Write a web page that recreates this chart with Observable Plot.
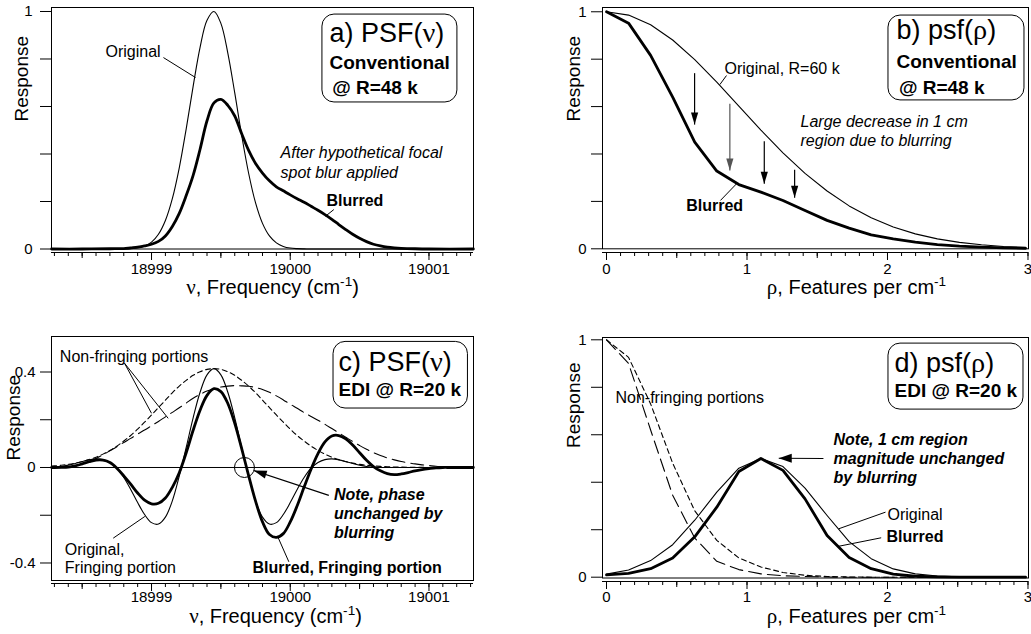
<!DOCTYPE html>
<html><head><meta charset="utf-8">
<script src="https://cdn.jsdelivr.net/npm/d3@7"></script>
<script src="https://cdn.jsdelivr.net/npm/@observablehq/plot@0.6"></script>
<style>
body{margin:0;background:#fff;}
#chart{position:relative;width:1031px;height:634px;overflow:hidden;background:#fff;}
#chart svg{position:absolute;}
</style></head><body><div id="chart"></div>
<script>
// ---------- Panel a: PSF(nu), conventional ----------
const nuA = [18998.28, 18998.5, 18998.7, 18998.75, 18998.8, 18998.85, 18998.9, 18998.95, 18999.0, 18999.05, 18999.1, 18999.15, 18999.2, 18999.25, 18999.3, 18999.35, 18999.4, 18999.45, 18999.5, 18999.55, 18999.6, 18999.65, 18999.7, 18999.75, 18999.8, 18999.85, 18999.9, 18999.95, 19000.0, 19000.05, 19000.1, 19000.15, 19000.2, 19000.25, 19000.3, 19000.35, 19000.4, 19000.45, 19000.5, 19000.55, 19000.6, 19000.65, 19000.7, 19000.75, 19000.8, 19000.9, 19001.0, 19001.32];
const origA = [0, 0, 0, 0.0002, 0.0006, 0.0018, 0.005, 0.0128, 0.029, 0.062, 0.12, 0.212, 0.342, 0.506, 0.685, 0.849, 0.963, 1.0, 0.95, 0.825, 0.657, 0.478, 0.319, 0.194, 0.108, 0.055, 0.026, 0.011, 0.004, 0.0015, 0.0005, 0, 0, 0, 0, 0, 0, 0, 0, 0, 0, 0, 0, 0, 0, 0, 0, 0];
const blurA = [0, 0, 0.001, 0.0015, 0.002, 0.005, 0.008, 0.013, 0.02, 0.032, 0.055, 0.095, 0.15, 0.225, 0.31, 0.42, 0.54, 0.615, 0.63, 0.605, 0.56, 0.485, 0.415, 0.36, 0.32, 0.287, 0.262, 0.245, 0.228, 0.212, 0.197, 0.18, 0.163, 0.145, 0.125, 0.103, 0.082, 0.062, 0.045, 0.031, 0.02, 0.013, 0.008, 0.005, 0.003, 0.001, 0, 0];

// ---------- Panel b: psf(rho), conventional ----------
const rhoB = [0, 0.157, 0.314, 0.471, 0.628, 0.785, 0.942, 1.099, 1.256, 1.413, 1.57, 1.727, 1.884, 2.041, 2.198, 2.355, 2.512, 2.669, 2.826, 2.983];
const origB = [1, 0.986, 0.945, 0.881, 0.798, 0.703, 0.602, 0.501, 0.405, 0.318, 0.244, 0.181, 0.131, 0.092, 0.063, 0.042, 0.027, 0.017, 0.01, 0.006];
const blurB = [1, 0.952, 0.816, 0.64, 0.45, 0.328, 0.271, 0.239, 0.204, 0.162, 0.12, 0.087, 0.059, 0.042, 0.028, 0.018, 0.011, 0.007, 0.004, 0.002];

// ---------- Panel c: PSF(nu), EDI ----------
const nuC = [18998.28, 18998.30, 18998.35, 18998.40, 18998.45, 18998.50, 18998.55, 18998.60, 18998.65, 18998.70, 18998.75, 18998.80, 18998.85, 18998.90, 18998.95, 18999.00, 18999.05, 18999.10, 18999.15, 18999.20, 18999.25, 18999.30, 18999.35, 18999.40, 18999.45, 18999.50, 18999.55, 18999.60, 18999.65, 18999.70, 18999.75, 18999.80, 18999.85, 18999.90, 18999.95, 19000.00, 19000.05, 19000.10, 19000.15, 19000.20, 19000.25, 19000.30, 19000.35, 19000.40, 19000.45, 19000.50, 19000.55, 19000.60, 19000.65, 19000.70, 19000.75, 19000.80, 19000.85, 19000.90, 19000.95, 19001.00, 19001.05, 19001.10, 19001.15, 19001.20, 19001.32];
const origC = [0, 0.001, 0.0045, 0.01, 0.017, 0.025, 0.032, 0.036, 0.033, 0.021, -0.003, -0.042, -0.092, -0.147, -0.197, -0.231, -0.237, -0.208, -0.14, -0.036, 0.084, 0.208, 0.315, 0.388, 0.414, 0.388, 0.315, 0.208, 0.084, -0.036, -0.14, -0.208, -0.237, -0.231, -0.197, -0.147, -0.092, -0.042, -0.003, 0.021, 0.033, 0.036, 0.032, 0.025, 0.017, 0.01, 0.0045, 0.001, 0, 0, 0, 0, 0, 0, 0, 0, 0, 0, 0, 0, 0];
const blurC = [0, 0, 0.0005, 0.002, 0.007, 0.015, 0.024, 0.031, 0.031, 0.021, -0.003, -0.035, -0.07, -0.107, -0.137, -0.152, -0.15, -0.128, -0.083, -0.022, 0.062, 0.156, 0.24, 0.302, 0.33, 0.318, 0.268, 0.185, 0.079, -0.034, -0.141, -0.228, -0.281, -0.293, -0.277, -0.228, -0.16, -0.082, -0.007, 0.058, 0.107, 0.132, 0.134, 0.12, 0.094, 0.062, 0.03, 0.004, -0.014, -0.026, -0.03, -0.027, -0.021, -0.014, -0.009, -0.005, -0.0015, 0, 0, 0, 0];
const envOrigC = [0.006, 0.0066, 0.0094, 0.0132, 0.0182, 0.0247, 0.0329, 0.0433, 0.056, 0.0714, 0.0896, 0.111, 0.134, 0.161, 0.19, 0.22, 0.251, 0.282, 0.313, 0.341, 0.365, 0.386, 0.401, 0.411, 0.414, 0.411, 0.401, 0.386, 0.365, 0.341, 0.313, 0.282, 0.251, 0.22, 0.19, 0.161, 0.134, 0.111, 0.0896, 0.0714, 0.056, 0.0433, 0.0329, 0.0247, 0.0182, 0.0132, 0.0094, 0.0066, 0.0046, 0.0031, 0.0021, 0.0014, 0.0009, 0.0006, 0.0004, 0.0002, 0.0001, 0, 0, 0, 0];
const envBlurC = [0, 0, 0.001, 0.003, 0.008, 0.015, 0.025, 0.038, 0.053, 0.07, 0.087, 0.105, 0.122, 0.14, 0.157, 0.175, 0.193, 0.212, 0.231, 0.25, 0.27, 0.29, 0.306, 0.32, 0.33, 0.337, 0.341, 0.343, 0.342, 0.34, 0.335, 0.327, 0.315, 0.3, 0.283, 0.265, 0.248, 0.23, 0.214, 0.198, 0.181, 0.163, 0.145, 0.127, 0.109, 0.092, 0.076, 0.062, 0.05, 0.04, 0.032, 0.025, 0.02, 0.015, 0.011, 0.008, 0.005, 0.003, 0.001, 0, 0];

// ---------- Panel d: psf(rho), EDI ----------
const rhoD = [0, 0.157, 0.314, 0.471, 0.628, 0.785, 0.942, 1.099, 1.256, 1.413, 1.57, 1.727, 1.884, 2.041, 2.198, 2.355, 2.512, 2.669, 2.826, 2.983];
const origD = [0.013, 0.03, 0.07, 0.137, 0.24, 0.358, 0.459, 0.5, 0.466, 0.375, 0.26, 0.15, 0.078, 0.035, 0.014, 0.005, 0.002, 0.001, 0, 0];
const blurD = [0.01, 0.016, 0.036, 0.081, 0.17, 0.295, 0.445, 0.5, 0.45, 0.33, 0.176, 0.083, 0.036, 0.013, 0.004, 0.001, 0, 0, 0, 0];
const envOrigD = [1, 0.926, 0.73, 0.48, 0.28, 0.155, 0.081, 0.043, 0.02, 0.008, 0.003, 0.001, 0, 0, 0, 0, 0, 0, 0, 0];
const envBlurD = [1, 0.9, 0.62, 0.345, 0.165, 0.067, 0.032, 0.014, 0.006, 0.003, 0.001, 0, 0, 0, 0, 0, 0, 0, 0, 0];

// ---------- ticks ----------
const nuMajor = [18999, 19000, 19001];
const nuHalf = [18998.5, 18999.5, 19000.5];
const rhoMajor = [0, 1, 2, 3];
const rhoHalf = [0.5, 1.5, 2.5];
const unitTicks = [0, 0.2, 0.4, 0.6, 0.8, 1];
const unitLabels = [0, 1];
const cTicks = [-0.4, -0.2, 0, 0.2, 0.4];
const cLabels = ["-0.4", "0", "0.4"];

// ---------- styling ----------
const FONT = "'Liberation Sans', Arial, Helvetica, sans-serif";
const SERIF = "'Liberation Serif', 'DejaVu Serif', serif";
const THIN = 1.1, THICK = 2.8;
const SHORT = "5,3.5", LONG = "13,6";
const TICKFONT = 15, TITLEFONT = 20;

function axes(o) {
  return [
    Plot.frame({stroke: "black", strokeWidth: 1, insetBottom: o.inset}),
    Plot.ruleY([o.yMin], {stroke: "black", strokeWidth: 1}),
    Plot.axisX({ticks: o.xMinor, tickSize: 4, tickFormat: () => "", label: null}),
    Plot.axisX({ticks: o.xHalf, tickSize: 6, tickFormat: () => "", label: null}),
    Plot.axisX({ticks: o.xMajor, tickSize: 8, tickPadding: o.xPad, tickFormat: d => String(d), label: null, fontSize: TICKFONT}),
    Plot.axisY({ticks: o.yTicks, tickSize: 11, tickPadding: o.yPad, tickFormat: o.yFmt, label: null, fontSize: TICKFONT})
  ];
}
function titles(o) {
  return [
    Plot.text([o.ylab], {text: d => d, frameAnchor: "left", rotate: -90, dx: o.ydx, dy: o.ydy, fontSize: 19}),
    Plot.text([o.xlab], {text: d => d, frameAnchor: "bottom", dx: o.xdx, dy: o.xdy, fontSize: TITLEFONT})
  ];
}
function txt(arr, opts = {}) {
  return Plot.text(arr, {x: "x", y: "y", text: "t", textAnchor: "start", fontSize: 16, fill: "black", ...opts});
}
function leaders(arr, opts = {}) {
  return Plot.link(arr, {x1: "x1", y1: "y1", x2: "x2", y2: "y2", stroke: "black", strokeWidth: 1, ...opts});
}
function box(b) {
  return Plot.rect([b], {x1: "x1", x2: "x2", y1: "y1", y2: "y2", rx: 12, fill: "white", stroke: "black", strokeWidth: 1});
}
function head(angleDeg, len, half) {
  const a = angleDeg * Math.PI / 180, ux = Math.cos(a), uy = Math.sin(a), nx = -uy, ny = ux;
  return {draw(ctx) {
    ctx.moveTo(0, 0);
    ctx.lineTo(-len * ux + half * nx, -len * uy + half * ny);
    ctx.lineTo(-len * ux - half * nx, -len * uy - half * ny);
    ctx.closePath();
  }};
}
const style = {fontFamily: FONT, fontSize: "15px", color: "black", background: "transparent", overflow: "visible"};
const yUnitFmt = d => unitLabels.includes(d) ? String(d) : "";
const nuMinor = d3.range(0, 31).map(i => +(18998.3 + i * 0.1).toFixed(1));
const rhoMinor = d3.range(0, 31).map(i => +(i * 0.1).toFixed(1));

// ---------- Panel a ----------
const pa = Plot.plot({
  width: 515, height: 300, marginLeft: 51, marginRight: 42, marginTop: 7, marginBottom: 48,
  style, x: {domain: [18998.279, 19001.321]}, y: {domain: [-0.0147, 1.0168]},
  marks: [
    ...axes({inset: 3.5, yMin: -0.0147, xMinor: nuMinor, xHalf: nuHalf, xMajor: nuMajor, xPad: 3, yTicks: unitTicks, yPad: 8, yFmt: yUnitFmt}),
    ...titles({ylab: "Response", ydx: -30, ydy: -8.5, xlab: "ν, Frequency (cm-1)", xdx: 10, xdy: 41}),
    Plot.line(nuA, {x: nuA, y: origA, stroke: "black", strokeWidth: THIN, curve: "catmull-rom"}),
    Plot.line(nuA, {x: nuA, y: blurA, stroke: "black", strokeWidth: THICK, curve: "catmull-rom"}),
    leaders([{x1: 18999.086, y1: 0.806, x2: 18999.317, y2: 0.722}, {x1: 19000.314, y1: 0.166, x2: 19000.254, y2: 0.138}]),
    txt([{x: 18998.668, y: 0.832, t: "Original"}]),
    txt([{x: 18999.93, y: 0.406, t: "After hypothetical focal"}, {x: 18999.93, y: 0.322, t: "spot blur applied"}], {fontStyle: "italic"}),
    txt([{x: 19000.261, y: 0.204, t: "Blurred"}], {fontWeight: "bold"}),
    box({x1: 19000.232, x2: 19001.205, y1: 0.617, y2: 0.987}),
    txt([{x: 19000.283, y: 0.907, t: "a) PSF(ν)"}], {fontSize: 27}),
    txt([{x: 19000.283, y: 0.785, t: "Conventional"}, {x: 19000.302, y: 0.68, t: "@ R=48 k"}], {fontSize: 19, fontWeight: "bold"})
  ]
});

// ---------- Panel b ----------
const arrowsB = [{x: 0.627, y1: 0.741, y2: 0.524}, {x: 1.123, y1: 0.454, y2: 0.274}, {x: 1.339, y1: 0.333, y2: 0.215}];
const arrowsBgray = [{x: 0.878, y1: 0.612, y2: 0.33}];
const pb = Plot.plot({
  width: 511, height: 300, marginLeft: 82, marginRight: 3, marginTop: 7, marginBottom: 48,
  style, x: {domain: [-0.0285, 3.0036]}, y: {domain: [-0.0156, 1.018]},
  marks: [
    ...axes({inset: 3.7, yMin: -0.0156, xMinor: rhoMinor, xHalf: rhoHalf, xMajor: rhoMajor, xPad: 3, yTicks: unitTicks, yPad: 5, yFmt: yUnitFmt}),
    ...titles({ylab: "Response", ydx: -28.5, ydy: -8.5, xlab: "ρ, Features per cm-1", xdx: 41, xdy: 41}),
    Plot.line(rhoB, {x: rhoB, y: origB, stroke: "black", strokeWidth: THIN}),
    Plot.line(rhoB, {x: rhoB, y: blurB, stroke: "black", strokeWidth: THICK}),
    Plot.link(arrowsB, {x1: "x", x2: "x", y1: "y1", y2: "y2", stroke: "black", strokeWidth: 1.2}),
    Plot.dot(arrowsB, {x: "x", y: "y2", r: 4, symbol: head(90, 12, 3.6), fill: "black", stroke: "none"}),
    Plot.link(arrowsBgray, {x1: "x", x2: "x", y1: "y1", y2: "y2", stroke: "#555", strokeWidth: 1.2}),
    Plot.dot(arrowsBgray, {x: "x", y: "y2", r: 4, symbol: head(90, 12, 3.6), fill: "#555", stroke: "none"}),
    leaders([{x1: 0.854, y1: 0.731, x2: 0.807, y2: 0.693}, {x1: 0.811, y1: 0.204, x2: 0.925, y2: 0.274}]),
    txt([{x: 0.84, y: 0.759, t: "Original, R=60 k"}]),
    txt([{x: 1.381, y: 0.534, t: "Large decrease in 1 cm"}, {x: 1.381, y: 0.457, t: "region due to blurring"}], {fontStyle: "italic"}),
    txt([{x: 0.567, y: 0.183, t: "Blurred"}], {fontWeight: "bold"}),
    box({x1: 2.007, x2: 2.975, y1: 0.626, y2: 0.984}),
    txt([{x: 2.064, y: 0.921, t: "b) psf(ρ)"}], {fontSize: 27}),
    txt([{x: 2.064, y: 0.787, t: "Conventional"}, {x: 2.081, y: 0.679, t: "@ R=48 k"}], {fontSize: 19, fontWeight: "bold"})
  ]
});

// ---------- Panel c ----------
const pc = Plot.plot({
  width: 515, height: 334, marginLeft: 51, marginRight: 42, marginTop: 36, marginBottom: 51,
  style, x: {domain: [18998.279, 19001.321]}, y: {domain: [-0.4859, 0.5487]},
  marks: [
    ...axes({inset: 3, yMin: -0.4859, xMinor: nuMinor, xHalf: nuHalf, xMajor: nuMajor, xPad: 0, yTicks: cTicks, yPad: 5,
      yFmt: d => d === -0.4 ? cLabels[0] : d === 0 ? cLabels[1] : d === 0.4 ? cLabels[2] : ""}),
    ...titles({ylab: "Response", ydx: -38, ydy: 0.5, xlab: "ν, Frequency (cm-1)", xdx: 13, xdy: 39}),
    Plot.ruleY([0], {stroke: "black", strokeWidth: 1}),
    Plot.line(nuC, {x: nuC, y: envOrigC, stroke: "black", strokeWidth: THIN, strokeDasharray: SHORT, curve: "catmull-rom"}),
    Plot.line(nuC, {x: nuC, y: envBlurC, stroke: "black", strokeWidth: THIN, strokeDasharray: LONG, curve: "catmull-rom"}),
    Plot.line(nuC, {x: nuC, y: origC, stroke: "black", strokeWidth: THIN, curve: "catmull-rom"}),
    Plot.line(nuC, {x: nuC, y: blurC, stroke: "black", strokeWidth: THICK, curve: "catmull-rom"}),
    Plot.dot([{x: 18999.67, y: 0}], {x: "x", y: "y", r: 10, stroke: "black", strokeWidth: 1, fill: "none"}),
    Plot.link([{x1: 19000.278, y1: -0.117, x2: 18999.737, y2: -0.0126}], {x1: "x1", y1: "y1", x2: "x2", y2: "y2", stroke: "black", strokeWidth: 1.2}),
    Plot.dot([{x: 18999.737, y: -0.0126}], {x: "x", y: "y", r: 4, symbol: head(198.4, 13, 4), fill: "black", stroke: "none"}),
    leaders([
      {x1: 18998.805, y1: 0.437, x2: 18999.0, y2: 0.227},
      {x1: 18998.805, y1: 0.437, x2: 18999.12, y2: 0.206},
      {x1: 18998.724, y1: -0.296, x2: 18998.952, y2: -0.205},
      {x1: 18999.99, y1: -0.395, x2: 18999.91, y2: -0.29}
    ]),
    txt([{x: 18998.339, y: 0.465, t: "Non-fringing portions"}, {x: 18998.375, y: -0.343, t: "Original,"}, {x: 18998.375, y: -0.419, t: "Fringing portion"}]),
    txt([{x: 18999.728, y: -0.419, t: "Blurred, Fringing portion"}], {fontWeight: "bold"}),
    txt([{x: 19000.315, y: -0.113, t: "Note, phase"}, {x: 19000.315, y: -0.193, t: "unchanged by"}, {x: 19000.315, y: -0.272, t: "blurring"}], {fontWeight: "bold", fontStyle: "italic"}),
    box({x1: 19000.312, x2: 19001.281, y1: 0.247, y2: 0.526}),
    txt([{x: 19000.348, y: 0.44, t: "c) PSF(ν)"}], {fontSize: 27}),
    txt([{x: 19000.348, y: 0.325, t: "EDI @ R=20 k"}], {fontSize: 19, fontWeight: "bold"})
  ]
});

// ---------- Panel d ----------
const pd = Plot.plot({
  width: 511, height: 334, marginLeft: 82, marginRight: 3, marginTop: 37, marginBottom: 53,
  style, x: {domain: [-0.0285, 3.0036]}, y: {domain: [-0.0181, 1.0097]},
  marks: [
    ...axes({inset: 3.5, yMin: -0.0181, xMinor: rhoMinor, xHalf: rhoHalf, xMajor: rhoMajor, xPad: 2, yTicks: unitTicks, yPad: 5, yFmt: yUnitFmt}),
    ...titles({ylab: "Response", ydx: -28.5, ydy: -11.5, xlab: "ρ, Features per cm-1", xdx: 41, xdy: 41}),
    Plot.line(rhoD, {x: rhoD, y: envOrigD, stroke: "black", strokeWidth: THIN, strokeDasharray: SHORT}),
    Plot.line(rhoD, {x: rhoD, y: envBlurD, stroke: "black", strokeWidth: THIN, strokeDasharray: LONG}),
    Plot.line(rhoD, {x: rhoD, y: origD, stroke: "black", strokeWidth: THIN}),
    Plot.line(rhoD, {x: rhoD, y: blurD, stroke: "black", strokeWidth: THICK}),
    Plot.link([{x1: 1.544, y1: 0.5, x2: 1.226, y2: 0.501}], {x1: "x1", y1: "y1", x2: "x2", y2: "y2", stroke: "black", strokeWidth: 1.2}),
    Plot.dot([{x: 1.226, y: 0.501}], {x: "x", y: "y", r: 4, symbol: head(180, 13, 4.5), fill: "black", stroke: "none"}),
    leaders([{x1: 1.986, y1: 0.274, x2: 1.653, y2: 0.204}, {x1: 1.955, y1: 0.166, x2: 1.642, y2: 0.129}]),
    txt([{x: 0.064, y: 0.757, t: "Non-fringing portions"}, {x: 2.0, y: 0.263, t: "Original"}]),
    txt([{x: 1.993, y: 0.168, t: "Blurred"}], {fontWeight: "bold"}),
    txt([{x: 1.616, y: 0.58, t: "Note, 1 cm region"}, {x: 1.616, y: 0.5, t: "magnitude unchanged"}, {x: 1.616, y: 0.42, t: "by blurring"}], {fontWeight: "bold", fontStyle: "italic"}),
    box({x1: 2.007, x2: 2.968, y1: 0.706, y2: 0.984}),
    txt([{x: 2.05, y: 0.9, t: "d) psf(ρ)"}], {fontSize: 27}),
    txt([{x: 2.05, y: 0.784, t: "EDI @ R=20 k"}], {fontSize: 19, fontWeight: "bold"})
  ]
});

// ---------- layout ----------
const chart = document.getElementById("chart");
[[pa, 0, 0], [pb, 520, 0], [pc, 0, 300], [pd, 520, 300]].forEach(([svg, l, t]) => {
  svg.style.left = l + "px"; svg.style.top = t + "px";
  chart.appendChild(svg);
  svg.querySelectorAll('[aria-label$="tick label"]').forEach(g => g.setAttribute("font-size", TICKFONT));
});

// rich text: serif Greek letters and superscript exponent
function richify(svg) {
  svg.querySelectorAll("text").forEach(t => {
    if (t.children.length) return;
    const s = t.textContent;
    if (!/[νρ]|cm-1/.test(s)) return;
    const fs = parseFloat(getComputedStyle(t).fontSize) || 16;
    t.textContent = "";
    let shifted = 0;
    const add = (str, attrs) => {
      const ts = document.createElementNS("http://www.w3.org/2000/svg", "tspan");
      for (const k in attrs) ts.setAttribute(k, attrs[k]);
      ts.textContent = str; t.appendChild(ts);
    };
    for (const p of s.split(/(ν|ρ|cm-1)/)) {
      if (!p) continue;
      const back = shifted ? {dy: shifted} : {};
      if (p === "ν" || p === "ρ") { add(p, {...back, "font-family": SERIF, "font-size": fs * 1.05}); shifted = 0; }
      else if (p === "cm-1") { add("cm", back); add("-1", {dy: -fs * 0.36, "font-size": fs * 0.68}); shifted = fs * 0.36; }
      else { add(p, back); shifted = 0; }
    }
  });
}
[pa, pb, pc, pd].forEach(richify);
</script></body></html>
